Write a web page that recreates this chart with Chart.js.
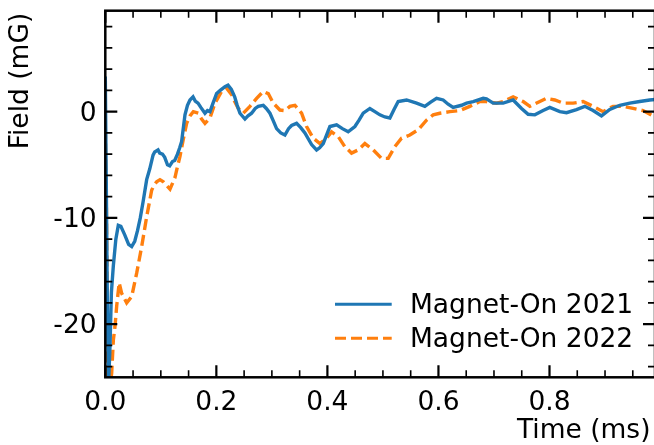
<!DOCTYPE html>
<html><head><meta charset="utf-8">
<script src="https://cdn.jsdelivr.net/npm/chart.js@4/dist/chart.umd.min.js"></script>
<style>html,body{margin:0;padding:0;overflow:hidden;background:#fff}#wrap{position:relative;width:660px;height:445px}</style>
</head><body><div id="wrap"><canvas id="c" width="660" height="445"></canvas></div>
<script>
// ---- data (time in ms, field in mG) ----
const t2021 = [0,0.002,0.004,0.006,0.0085,0.011,0.0145,0.019,0.0234,0.028,0.035,0.042,0.0475,0.053,0.058,0.063,0.068,0.0745,0.080,0.086,0.089,0.095,0.098,0.103,0.107,0.112,0.116,0.121,0.125,0.130,0.134,0.1375,0.1435,0.148,0.1525,0.158,0.162,0.167,0.172,0.1795,0.184,0.1885,0.194,0.2005,0.207,0.2155,0.221,0.227,0.233,0.2375,0.2425,0.2515,0.257,0.2635,0.270,0.2755,0.2845,0.290,0.2965,0.302,0.3085,0.316,0.3235,0.330,0.3355,0.3445,0.352,0.3595,0.366,0.3715,0.3805,0.386,0.3925,0.400,0.4045,0.4166,0.427,0.4374,0.4495,0.457,0.4645,0.4765,0.4855,0.4945,0.5035,0.5125,0.520,0.5275,0.5426,0.5606,0.5755,0.586,0.5966,0.6085,0.6175,0.6265,0.6416,0.6506,0.6625,0.6805,0.6866,0.6985,0.7165,0.7345,0.7496,0.7615,0.7736,0.7885,0.8005,0.8186,0.8306,0.8486,0.8636,0.8785,0.8936,0.9086,0.9266,0.9446,0.9625,0.9805,0.99];
const v2021 = [3.3,-8,-20,-25.5,-22,-17,-14.5,-12,-10.7,-10.8,-11.6,-12.5,-12.7,-12.2,-11.2,-10.0,-8.5,-6.4,-5.4,-4.1,-3.8,-3.6,-3.9,-4.0,-4.3,-5.0,-5.1,-4.7,-4.6,-4.0,-3.4,-2.8,-0.3,0.6,1.1,1.4,1.0,0.8,0.4,-0.15,0.1,0,0.8,1.7,2.0,2.35,2.5,2.1,1.4,0.6,-0.15,-0.7,-0.4,-0.15,0.3,0.5,0.6,0.3,-0.15,-0.8,-1.6,-2.0,-2.2,-1.6,-1.3,-1.1,-1.5,-2.0,-2.6,-3.1,-3.6,-3.4,-3.0,-2.0,-1.4,-1.25,-1.6,-1.9,-1.4,-0.8,-0.15,0.3,0.0,-0.3,-0.5,-0.6,0.2,0.95,1.1,0.8,0.5,0.9,1.25,1.1,0.7,0.4,0.6,0.8,0.95,1.25,1.2,0.8,0.8,1.1,0.3,-0.25,-0.3,0.1,0.4,0.0,-0.1,0.2,0.5,0.1,-0.4,0.2,0.6,0.8,0.95,1.1,1.15];
const t2022 = [0,0.002,0.0045,0.008,0.0115,0.0145,0.0175,0.0205,0.025,0.0295,0.0385,0.0475,0.0565,0.0655,0.0745,0.0835,0.0865,0.0925,0.0985,0.1045,0.1165,0.1255,0.1285,0.1345,0.1405,0.1465,0.1525,0.1585,0.1675,0.1735,0.1795,0.1885,0.1975,0.2095,0.2185,0.2275,0.2335,0.2395,0.2485,0.2605,0.2725,0.2845,0.2935,0.3025,0.3145,0.3235,0.3325,0.3415,0.3535,0.3625,0.3745,0.3865,0.3985,0.4075,0.4195,0.4315,0.4435,0.4555,0.4675,0.4825,0.4975,0.5095,0.5215,0.5335,0.5485,0.5635,0.5785,0.5905,0.6025,0.6205,0.6385,0.6565,0.6746,0.6866,0.7046,0.7165,0.7345,0.7526,0.7646,0.7826,0.7946,0.8096,0.8246,0.8426,0.8606,0.8785,0.8965,0.9145,0.9325,0.9505,0.9685,0.9865];
const v2022 = [-1.5,-9,-25.5,-26,-24.6,-21.5,-20.2,-18.3,-16.1,-17.1,-18.0,-17.4,-15.2,-12.7,-9.9,-7.4,-7.05,-6.6,-6.4,-6.6,-7.3,-6.2,-5.5,-4.2,-2.6,-1.1,-0.4,0,-0.15,-0.7,-1.1,-0.6,0.8,1.9,2.2,1.6,0.9,0.3,-0.15,0.5,1.25,1.9,1.7,0.8,0.15,0.1,0.5,0.6,-0.15,-1.4,-2.5,-3.0,-2.5,-1.9,-2.35,-3.3,-3.9,-3.6,-3.0,-3.6,-4.4,-4.4,-3.3,-2.5,-2.2,-1.7,-0.8,-0.3,-0.15,0,0.1,0.5,0.95,0.94,0.8,0.95,1.4,0.95,0.5,0.95,1.25,1.1,0.8,0.8,0.95,0.5,0.0,0.5,0.5,0.3,0.1,-0.4];
const seriesLabels = ['Magnet-On 2021','Magnet-On 2022'];
const seriesColors = ['#1f77b4','#ff7f0e'];
const xTicks = [0,0.2,0.4,0.6,0.8];
const xTickLabels = ['0.0','0.2','0.4','0.6','0.8'];
const yTicks = [-20,-10,0];
const yTickLabels = ['-20','-10','0'];
const xTitle = 'Time (ms)';
const yTitle = 'Field (mG)';
const xRange = [0, 0.99];
const yRange = [-25, 9.5];
const xMinorStep = 0.05, yMinorStep = 2;

const FONT = '"DejaVu Sans", sans-serif';
const FS = 26.5;

const frame = {
  id: 'frame',
  afterDatasetsDraw(chart) {
    const {ctx, chartArea: a, scales: {x, y}} = chart;
    ctx.save();
    ctx.strokeStyle = '#000';
    ctx.lineCap = 'butt';
    // x ticks (bottom + top)
    const nx = Math.round((x.max - x.min) / xMinorStep);
    for (let i = 0; i <= nx + 1; i++) {
      const v = x.min + i * xMinorStep;
      if (v > x.max + 1e-9) break;
      const major = i % 4 === 0;
      const L = major ? 12 : 7;
      const p = x.getPixelForValue(v);
      ctx.lineWidth = major ? 2.2 : 1.6;
      ctx.beginPath();
      ctx.moveTo(p, a.bottom); ctx.lineTo(p, a.bottom - L);
      ctx.moveTo(p, a.top); ctx.lineTo(p, a.top + L);
      ctx.stroke();
    }
    // y ticks (left + right)
    const start = Math.ceil(y.min / yMinorStep) * yMinorStep;
    for (let v = start; v <= y.max + 1e-9; v += yMinorStep) {
      const major = Math.abs(v % 10) < 1e-9;
      const L = major ? 12 : 7;
      const p = y.getPixelForValue(v);
      ctx.lineWidth = major ? 2.2 : 1.6;
      ctx.beginPath();
      ctx.moveTo(a.left, p); ctx.lineTo(a.left + L, p);
      ctx.moveTo(a.right, p); ctx.lineTo(a.right - L, p);
      ctx.stroke();
    }
    // spines
    ctx.lineWidth = 2.5;
    ctx.strokeRect(a.left, a.top, a.right - a.left, a.bottom - a.top);

    // axis titles
    ctx.fillStyle = '#000';
    ctx.font = FS + 'px ' + FONT;
    ctx.textBaseline = 'alphabetic';
    ctx.textAlign = 'right';
    ctx.fillText(xTitle, a.right - 4.5, a.bottom + 61);
    ctx.save();
    ctx.translate(28.3, a.top + 2);
    ctx.rotate(-Math.PI / 2);
    ctx.textAlign = 'right';
    ctx.fillText(yTitle, 0, 0);
    ctx.restore();

    // legend
    const ds = chart.data.datasets;
    const lx0 = a.right - 320, lx1 = a.right - 263.3, tx = a.right - 245;
    const rows = [a.bottom - 73, a.bottom - 39];
    ds.forEach((d, i) => {
      const yy = rows[i];
      ctx.strokeStyle = d.borderColor;
      ctx.lineWidth = 3;
      ctx.setLineDash(d.borderDash || []);
      ctx.beginPath(); ctx.moveTo(lx0, yy); ctx.lineTo(lx1, yy); ctx.stroke();
      ctx.setLineDash([]);
      ctx.fillStyle = '#000';
      ctx.textAlign = 'left';
      ctx.fillText(d.label, tx, yy + 9);
    });
    ctx.restore();
  }
};

const toPts = (t, v) => t.map((tt, i) => ({x: tt, y: v[i]}));

new Chart(document.getElementById('c'), {
  type: 'line',
  data: {
    datasets: [
      {label: seriesLabels[0], data: toPts(t2021, v2021), borderColor: seriesColors[0], borderWidth: 3.4, pointRadius: 0, tension: 0, clip: 0, fill: false},
      {label: seriesLabels[1], data: toPts(t2022, v2022), borderColor: seriesColors[1], borderWidth: 3.4, borderDash: [11, 5], pointRadius: 0, tension: 0, clip: 0, fill: false}
    ]
  },
  options: {
    responsive: false,
    animation: false,
    devicePixelRatio: 1,
    layout: {padding: {top: 10.7, right: 5, left: 0, bottom: 0}},
    plugins: {legend: {display: false}, tooltip: {enabled: false}},
    scales: {
      x: {
        type: 'linear', min: xRange[0], max: xRange[1],
        grid: {display: false, drawTicks: false, tickLength: 0},
        border: {display: false},
        ticks: {color: '#000', font: {family: FONT, size: FS}, padding: 10, maxRotation: 0, autoSkip: false,
          callback: (v) => { const k = xTicks.indexOf(v); return k >= 0 ? xTickLabels[k] : ''; }},
        afterBuildTicks: (s) => { s.ticks = xTicks.map(v => ({value: v})); },
        afterFit: (s) => { s.height = 67.7; s.paddingLeft = 0; s.paddingRight = 0; }
      },
      y: {
        type: 'linear', min: yRange[0], max: yRange[1],
        grid: {display: false, drawTicks: false, tickLength: 0},
        border: {display: false},
        ticks: {color: '#000', font: {family: FONT, size: FS}, padding: 8.7, autoSkip: false, labelOffset: 2,
          callback: (v) => { const k = yTicks.indexOf(v); return k >= 0 ? yTickLabels[k] : ''; }},
        afterBuildTicks: (s) => { s.ticks = yTicks.map(v => ({value: v})); },
        afterFit: (s) => { s.width = 105.3; s.paddingTop = 0; s.paddingBottom = 0; }
      }
    }
  },
  plugins: [frame]
});
</script>
</body></html>
